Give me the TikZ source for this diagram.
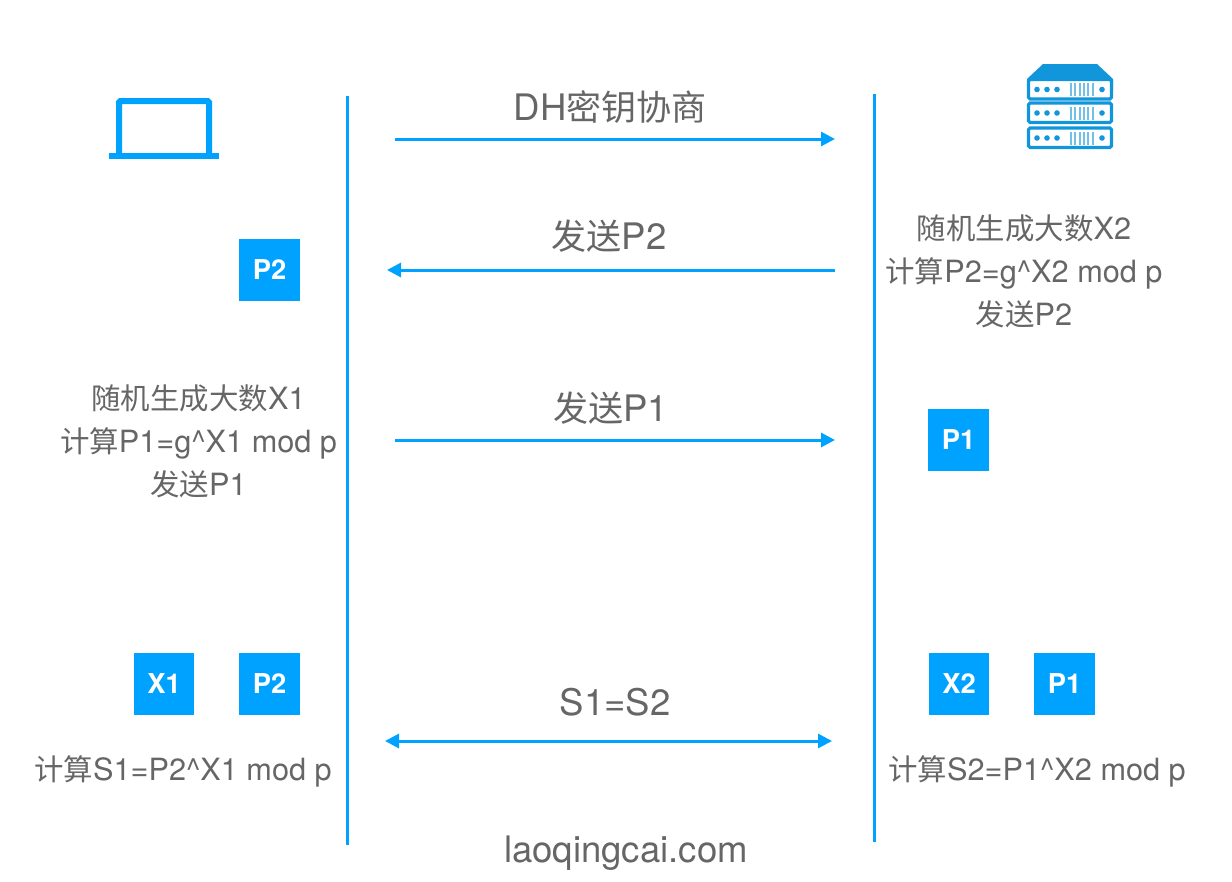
\documentclass[tikz,border=0pt]{standalone}
\usepackage{fontspec}
\setmainfont{TeX Gyre Heros}
\newfontfamily\cjk[Scale=0.96]{Noto Sans CJK SC}
\newcommand{\zh}[1]{{\cjk #1}}
\usepackage{xcolor}
\usetikzlibrary{arrows.meta,positioning}
\definecolor{skyline}{HTML}{00A2FF}
\definecolor{serverblue}{HTML}{1296DB}
\definecolor{ink}{HTML}{666666}
\tikzset{
    every picture/.style={line cap=butt,line join=miter},
    lifeline/.style={draw=skyline,line width=2.25pt},
    msgarrow/.style={-{Triangle[length=10.5pt,width=10.5pt]},draw=skyline,line width=2.25pt},
    bothways/.style={{Triangle[length=10.5pt,width=10.5pt]}-{Triangle[length=10.5pt,width=10.5pt]},draw=skyline,line width=2.25pt},
    keybox/.style={fill=skyline,text=white,minimum width=45.5pt,minimum height=46.5pt,inner sep=0pt,
      font=\fontsize{20.5}{22}\selectfont\bfseries},
    msglabel/.style={text=ink,inner sep=0pt,font=\fontsize{27.4}{30}\selectfont},
    steptext/.style={text=ink,inner sep=0pt,align=center,font=\fontsize{23}{32.25}\selectfont},
    rack/.style={draw=serverblue,fill=white,line width=2.3pt,rounded corners=1.2pt}
}
\begin{document}
\begin{tikzpicture}[x=0.75pt,y=-0.75pt]
    \useasboundingbox (0,0) rectangle (1232,882);
    % lifelines
    \coordinate (lefttop) at (347.5,96);
    \coordinate (leftend) at (347.5,845);
    \coordinate (righttop) at (874.5,94);
    \coordinate (rightend) at (874.5,842);
    \draw[lifeline] (lefttop)--(leftend);
    \draw[lifeline] (righttop)--(rightend);
    % laptop
    \draw[draw=skyline,line width=4.5pt,rounded corners=1pt] (119,156)--(119,101)--(209,101)--(209,156);
    \draw[draw=skyline,line width=4.5pt,rounded corners=1pt] (109,156)--(219,156);
    % server
    \fill[serverblue] (1043,64)--(1097,64)--(1113,79)--(1113,90)--(1027,90)--(1027,79)--cycle;
    \foreach \y in {78,101.5,126.5}{
      \draw[rack] (1028.5,\y+1.5) rectangle (1111.5,\y+21);
      \foreach \d in {1037,1047,1057,1102}
        \fill[serverblue] (\d,\y+11.5) circle (2.8);
      \foreach \t in {1071,1075.3,1079.6,1083.9,1088.2,1092.5}
        \fill[serverblue!60] (\t-1,\y+5) rectangle (\t+1,\y+18);
    }
    % messages
    \coordinate (msgastart) at (395,139);
    \coordinate (msgaend) at (835,139);
    \coordinate (msgbstart) at (835,270);
    \coordinate (msgbend) at (387,270);
    \coordinate (msgcstart) at (395,440);
    \coordinate (msgcend) at (835,440);
    \coordinate (msgdstart) at (385,741);
    \coordinate (msgdend) at (832,741);
    \draw[msgarrow] (msgastart)--(msgaend);
    \draw[msgarrow] (msgbstart)--(msgbend);
    \draw[msgarrow] (msgcstart)--(msgcend);
    \draw[bothways] (msgdstart)--(msgdend);
    \node[msglabel] (dhlabel) at (610.5,107) {DH\zh{密钥协商}};
    \node[msglabel] (sendptwo) at (609,236) {\zh{发送}P2};
    \node[msglabel] (sendpone) at (610.5,408) {\zh{发送}P1};
    \node[msglabel] (samekey) at (615,702) {S1=S2};
    % key boxes
    \node[keybox] (ptwotop) at (269.5,270) {P2};
    \node[keybox] (ponetop) at (958.5,440) {P1};
    \node[keybox] (xone) at (164,684) {X1};
    \node[keybox] (ptwolow) at (269.5,684) {P2};
    \node[keybox] (xtwo) at (959,684) {X2};
    \node[keybox] (ponelow) at (1064.5,684) {P1};
    % steps
    \node[steptext] (clientstep) at (198.5,441) {\zh{随机生成大数}X1\\\zh{计算}P1=g\^{}X1 mod p\\\zh{发送}P1};
    \node[steptext] (serverstep) at (1024,271) {\zh{随机生成大数}X2\\\zh{计算}P2=g\^{}X2 mod p\\\zh{发送}P2};
    \node[steptext] (clientkey) at (183,771) {\zh{计算}S1=P2\^{}X1 mod p};
    \node[steptext] (serverkey) at (1037,771) {\zh{计算}S2=P1\^{}X2 mod p};
    \node[msglabel] (site) at (626,853) {laoqingcai.com};
\end{tikzpicture}
\end{document}
